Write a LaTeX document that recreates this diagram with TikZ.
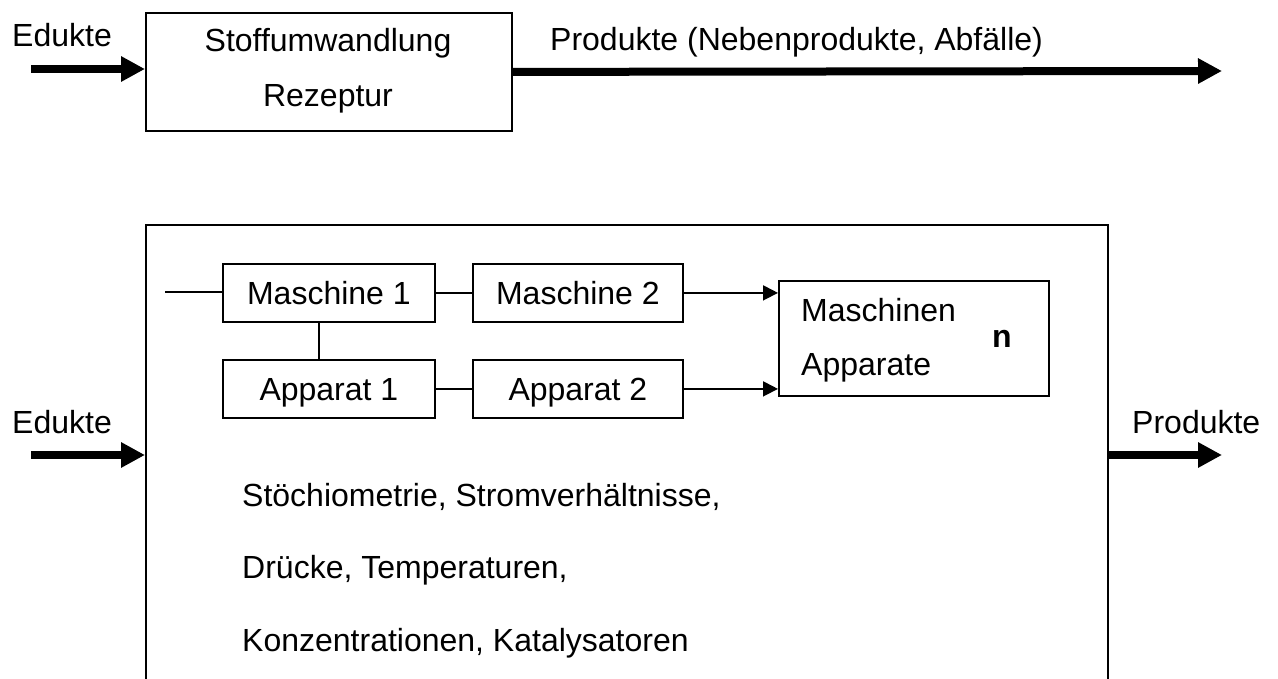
\documentclass[tikz,border=0pt]{standalone}
\usepackage{fontspec}
\setmainfont{Liberation Sans}
\usetikzlibrary{arrows.meta}
\begin{document}
\begin{tikzpicture}[x=1pt,y=-1pt,
  txt/.style={inner sep=0pt,font=\fontsize{32}{38}\selectfont},
  lbl/.style={txt,anchor=base},
  lbll/.style={txt,anchor=base west},
  box/.style={draw,line width=1.8pt,inner sep=0pt,anchor=north west,
    txt,text height=23pt,text depth=0pt},
  thickarrow/.style={line width=8pt,-{Triangle[length=24pt,width=24pt]}},
  thinarrow/.style={line width=1.8pt,-{Triangle[length=15pt,width=15pt]}},
  thinline/.style={line width=1.8pt}]
\useasboundingbox (0,0) rectangle (1278,679);
\clip (0,0) rectangle (1278,679);

% ---------- upper part ----------
\node[box,minimum width=366pt,minimum height=118pt] (stoff) at (145,12) {};
\node[lbl] (t1) at (328,52) {Stoffumwandlung};
\node[lbl] (t2) at (328,107) {Rezeptur};
\node[lbll] (ed1) at (12,47) {Edukte};
\coordinate (e1) at (31,69);
\draw[thickarrow] (e1) -- (e1 -| stoff.west);
\node[lbll] (p1) at (550,51) {Produkte (Nebenprodukte, Abfälle)};
\coordinate (p1end) at (1222,71);
\draw[thickarrow] (stoff.east) -- (p1end);

% ---------- lower part ----------
\node[box,minimum width=962pt,minimum height=560pt] (big) at (145,224) {};
\node[lbll] (ed2) at (12,433) {Edukte};
\coordinate (e2) at (31,455);
\draw[thickarrow] (e2) -- (e2 -| big.west);
\node[lbll] (p2) at (1132,433) {Produkte};
\coordinate (p2end) at (1222,455);
\draw[thickarrow] (p2end -| big.east) -- (p2end);

\node[box,minimum width=212pt,minimum height=58pt] (m1) at (222,263) {Maschine 1};
\node[box,minimum width=212pt,minimum height=58pt] (a1) at (222,359) {Apparat 1};
\node[box,minimum width=210pt,minimum height=58pt] (m2) at (472,263) {Maschine 2};
\node[box,minimum width=210pt,minimum height=58pt] (a2) at (472,359) {Apparat 2};
\node[box,minimum width=270pt,minimum height=115pt] (mn) at (778,280) {};
\node[lbll] (mn1) at (801,321) {Maschinen};
\node[lbll] (mn2) at (801,375) {Apparate};
\node[lbl,font=\fontsize{32}{38}\selectfont\bfseries] (nn) at (1002,348) {n};

\coordinate (in) at (165,292);
\draw[thinline] (in) -- (in -| m1.west);
\draw[thinline] (m1) -- (m2);
\draw[thinline] (a1) -- (a2);
\draw[thinline] ([xshift=-10pt]m1.south) -- ([xshift=-10pt]m1.south |- a1.north);
\draw[thinarrow] (m2.east) -- (m2.east -| mn.west);
\draw[thinarrow] (a2.east) -- (a2.east -| mn.west);

\node[lbll] (s1) at (242,506) {Stöchiometrie, Stromverhältnisse,};
\node[lbll] (s2) at (242,578) {Drücke, Temperaturen,};
\node[lbll] (s3) at (242,651) {Konzentrationen, Katalysatoren};
\end{tikzpicture}
\end{document}
